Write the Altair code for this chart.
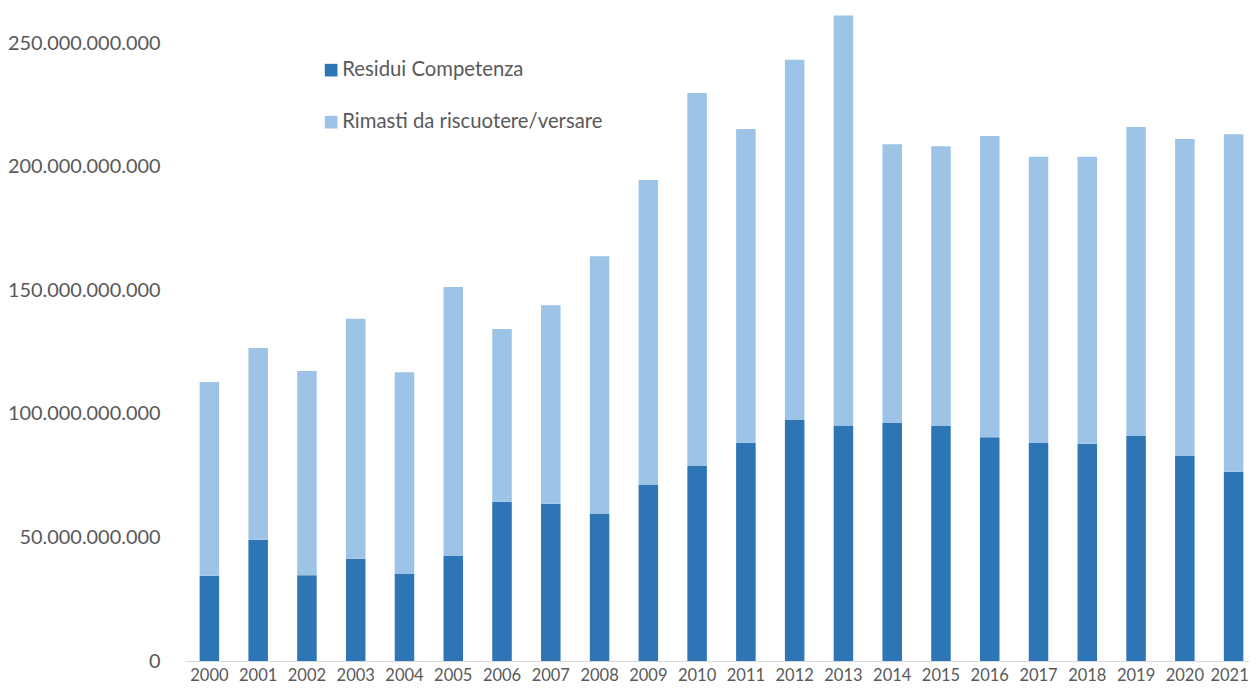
import altair as alt
import pandas as pd

years = [str(y) for y in range(2000, 2022)]
# values in billions of euro
residui = [34.5, 49.1, 34.7, 41.4, 35.2, 42.5, 64.4, 63.6, 59.5, 71.2, 78.9,
           88.3, 97.5, 95.3, 96.3, 95.1, 90.5, 88.2, 87.9, 91.0, 82.9, 76.6]
rimasti = [78.4, 77.5, 82.6, 97.1, 81.6, 108.8, 69.9, 80.3, 104.3, 123.4, 150.9,
           126.9, 145.8, 165.9, 112.8, 113.2, 121.9, 115.8, 116.1, 125.1, 128.3, 136.5]
series = ["Residui Competenza", "Rimasti da riscuotere/versare"]
colors = ["#2E75B6", "#9DC3E6"]
y_ticks = [0, 50e9, 100e9, 150e9, 200e9, 250e9]

rows = []
for i, yr in enumerate(years):
    rows.append({"anno": yr, "serie": series[0], "ord": 0, "valore": residui[i] * 1e9})
    rows.append({"anno": yr, "serie": series[1], "ord": 1, "valore": rimasti[i] * 1e9})
df = pd.DataFrame(rows)

FONT = "Lato"
GREY = "#595959"

chart = alt.Chart(df).mark_bar().encode(
    x=alt.X("anno:N", sort=years, title=None,
            scale=alt.Scale(paddingInner=0.6, paddingOuter=0.3, range=[0, 1073]),
            axis=alt.Axis(labelAngle=0, labelFontSize=16.5, labelColor=GREY, labelFont=FONT,
                          ticks=False, tickSize=0, labelPadding=6,
                          labelOffset=alt.condition("datum.value == '2021'", alt.value(-4), alt.value(0)),
                          domainColor="#D9D9D9", domainWidth=1, grid=False)),
    y=alt.Y("valore:Q", stack="zero", title=None,
            scale=alt.Scale(domain=[0, 264.2e9], nice=False, zero=True),
            axis=alt.Axis(values=y_ticks, domain=False, ticks=False, tickSize=0, grid=False,
                          labelFontSize=19.9, labelColor=GREY, labelFont=FONT, labelPadding=25,
                          labelExpr="replace(format(datum.value, ','), regexp(',', 'g'), '.')")),
    color=alt.Color("serie:N", sort=series,
                    scale=alt.Scale(domain=series, range=colors),
                    legend=alt.Legend(title=None, orient="none", legendX=136, legendY=52,
                                      symbolType="square", symbolSize=160, symbolStrokeWidth=0,
                                      labelFontSize=20.3, labelColor=GREY, labelFont=FONT,
                                      labelLimit=0, labelOffset=1, rowPadding=31)),
    order=alt.Order("ord:Q", sort="ascending"),
).properties(
    width=1064, height=653,
    background="white",
    autosize=alt.AutoSizeParams(type="none"),
    padding={"left": 177, "top": 0, "right": 0, "bottom": 24},
).configure_view(strokeWidth=0, stroke="transparent")

chart.save("out.html", embed_options={"renderer": "svg", "actions": False})
